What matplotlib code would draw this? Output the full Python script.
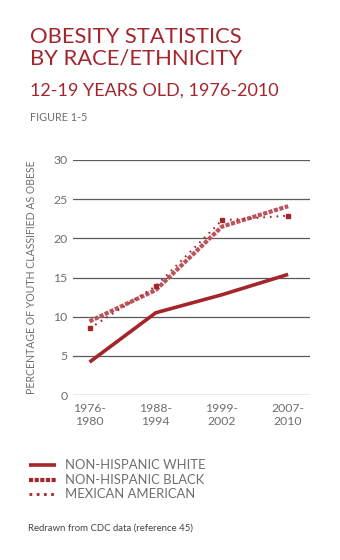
import numpy as np
import matplotlib.pyplot as plt

plt.rcParams['font.family'] = ['Lato', 'DejaVu Sans']

# obesity prevalence, youth aged 12-19, by survey period
periods = ['1976-\n1980', '1988-\n1994', '1999-\n2002', '2007-\n2010']
white = [4.2, 10.5, 12.8, 15.4]
black = [9.4, 13.4, 21.5, 24.1]
mexican = [8.5, 13.9, 22.3, 22.9]
series_names = ['NON-HISPANIC WHITE', 'NON-HISPANIC BLACK', 'MEXICAN AMERICAN']
yticks = [0, 5, 10, 15, 20, 25, 30]

red = '#a4262c'
pink = '#b9545c'
gray = '#6e6e6e'

fig = plt.figure(figsize=(3.4, 5.6), dpi=100)
ax = fig.add_axes([0.2147, 0.2946, 0.697, 0.4197])

x = np.arange(len(periods))
ax.plot(x, white, color=red, lw=2.6, solid_capstyle='butt', zorder=3)
ax.plot(x, black, color=pink, lw=3.0, linestyle=(0, (1.0, 0.35)), zorder=3)
ax.plot(x, mexican, color=red, lw=1.5, linestyle=(0, (0.8, 2.4)),
        marker='s', ms=3.0, zorder=4)

ax.set_xlim(-0.25, 3.33)
ax.set_ylim(0, 30)
ax.set_yticks(yticks)
ax.set_yticklabels([str(v) for v in yticks])
ax.set_xticks(x)
ax.set_xticklabels(periods, linespacing=1.15)
ax.grid(axis='y', color='#5a5a5a', lw=0.9)
ax.set_axisbelow(True)
for s in ax.spines.values():
    s.set_visible(False)
ax.tick_params(length=0, colors=gray, labelsize=8.8, pad=6)
ax.tick_params(axis='y', pad=4)
ax.set_ylabel('PERCENTAGE OF YOUTH CLASSIFIED AS OBESE', color=gray,
              fontsize=7.6, labelpad=6)
ax.yaxis.set_label_coords(-0.15, 0.5)

# titles
fig.text(0.088, 0.923, 'OBESITY STATISTICS', color=red, fontsize=15.8, va='baseline')
fig.text(0.088, 0.884, 'BY RACE/ETHNICITY', color=red, fontsize=15.8, va='baseline')
fig.text(0.088, 0.830, '12-19 YEARS OLD, 1976-2010', color=red, fontsize=13, va='baseline')
fig.text(0.088, 0.784, 'FIGURE 1-5', color=gray, fontsize=7.8, va='baseline')

# legend drawn by hand below the chart
styles = [dict(color=red, lw=2.6, solid_capstyle='butt'),
          dict(color=red, lw=3.0, linestyle=(0, (1.0, 0.35))),
          dict(color=red, lw=2.0, linestyle=(0, (1.0, 1.6)))]
ys = [0.170, 0.142, 0.118]
for name, st, yy in zip(series_names, styles, ys):
    fig.add_artist(plt.Line2D([0.086, 0.165], [yy, yy], transform=fig.transFigure, **st))
    fig.text(0.19, yy, name, color=gray, fontsize=9.4, va='center')

fig.text(0.082, 0.057, 'Redrawn from CDC data (reference 45)', color='#444444',
         fontsize=6.9, va='center')

fig.savefig('out.png', dpi=100)
